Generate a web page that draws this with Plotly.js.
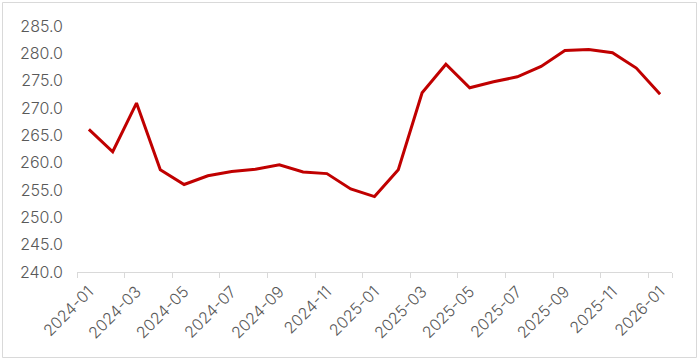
<!DOCTYPE html>
<html>
<head>
<meta charset="utf-8">
<script src="https://cdn.plot.ly/plotly-3.0.1.min.js"></script>
<style>
html,body{margin:0;padding:0;background:#fff;}
#chart{width:700px;height:363px;}
</style>
</head>
<body>
<div id="chart"></div>
<script>
const months = [
  "2024-01","2024-02","2024-03","2024-04","2024-05","2024-06","2024-07","2024-08",
  "2024-09","2024-10","2024-11","2024-12","2025-01","2025-02","2025-03","2025-04",
  "2025-05","2025-06","2025-07","2025-08","2025-09","2025-10","2025-11","2025-12","2026-01"
];
const values = [
  266.1, 262.0, 270.9, 258.7, 256.0, 257.6, 258.4, 258.8,
  259.6, 258.3, 258.0, 255.2, 253.8, 258.7, 272.8, 278.0,
  273.7, 274.8, 275.7, 277.6, 280.5, 280.7, 280.1, 277.3, 272.5
];
const yTickVals = [240, 245, 250, 255, 260, 265, 270, 275, 280, 285];
const xTickVals = months.filter((m, i) => i % 2 === 0);

const trace = {
  x: months,
  y: values,
  type: "scatter",
  mode: "lines",
  line: {color: "#C00000", width: 3},
  hoverinfo: "x+y"
};

const font = {family: "Inter, Liberation Sans, Arial, sans-serif", size: 16, color: "#595959", weight: 300};

const layout = {
  width: 700,
  height: 363,
  margin: {l: 77, r: 28, t: 26, b: 91},
  paper_bgcolor: "#ffffff",
  plot_bgcolor: "#ffffff",
  showlegend: false,
  font: font,
  xaxis: {
    type: "category",
    range: [-0.5, months.length - 0.5],
    tickvals: xTickVals,
    ticktext: xTickVals,
    tickson: "boundaries",
    ticks: "outside",
    ticklen: 5,
    tickcolor: "#D9D9D9",
    tickwidth: 1,
    tickangle: -45,
    showline: true,
    linecolor: "#D9D9D9",
    linewidth: 1,
    showgrid: false,
    zeroline: false,
    tickfont: font,
    ticklabelstandoff: 3
  },
  yaxis: {
    range: [240, 285],
    tickvals: yTickVals,
    tickformat: ".1f",
    showline: false,
    showgrid: false,
    zeroline: false,
    ticks: "",
    tickfont: font,
    ticklabelstandoff: 13
  },
  shapes: [{
    type: "rect",
    xref: "paper", yref: "paper",
    x0: -0.1252, x1: 1.0412, y0: -0.3476, y1: 1.0955,
    line: {color: "#D9D9D9", width: 1},
    fillcolor: "rgba(0,0,0,0)",
    layer: "below"
  }]
};

Plotly.newPlot("chart", [trace], layout, {displayModeBar: false, staticPlot: true});
</script>
</body>
</html>
